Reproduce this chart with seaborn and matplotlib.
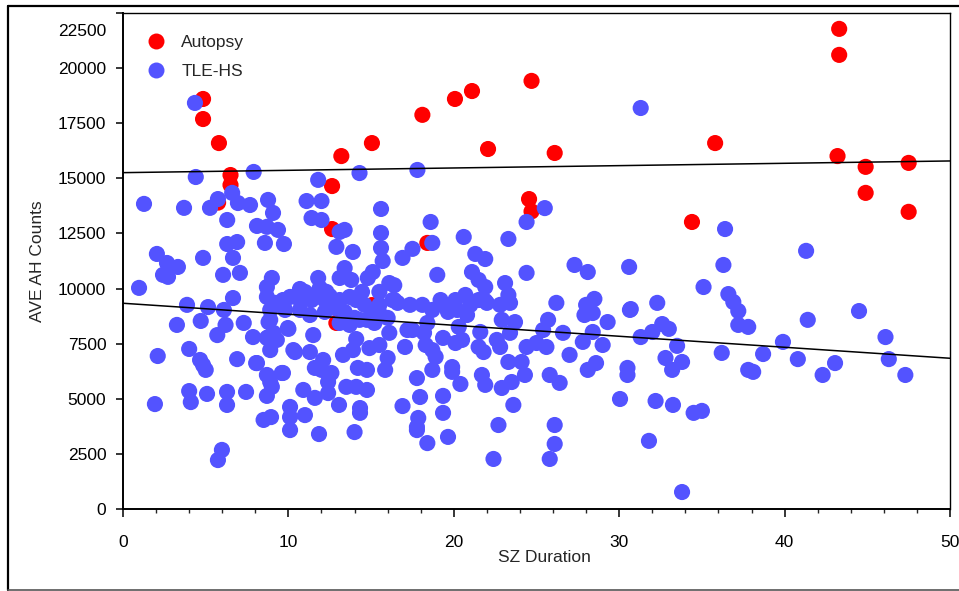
import numpy as np
import pandas as pd
import seaborn as sns
import matplotlib.pyplot as plt
from matplotlib.lines import Line2D
from matplotlib.transforms import ScaledTranslation

# values
autopsy_x = [4.84, 4.84, 5.8, 6.5, 6.5, 5.75, 13.2, 12.64, 15.05, 18.1, 20.07, 21.1,
             12.64, 18.4, 15.05, 12.9, 22.07, 26.1, 24.55, 24.7, 24.7, 35.8, 43.3,
             43.3, 43.2, 44.9, 47.5, 44.9, 47.5, 34.4]
autopsy_y = [18600, 17690, 16600, 15150, 14700, 13900, 16010, 14650, 16600, 17880,
             18600, 18960, 12700, 12070, 9250, 8440, 16330, 16150, 14060, 13500, 19420,
             16600, 21780, 20600, 16010, 15520, 15700, 14340, 13480, 13020]

tle_x = [
    # upper
    4.35, 31.3, 4.4, 7.9, 11.8, 14.3, 17.8, 1.27, 3.69, 5.26, 5.74, 6.6, 6.95, 7.68,
    8.77, 9.07, 11.1, 12.0, 15.6, 11.4, 12.0, 6.3, 8.1, 8.7, 9.37, 13.1, 13.4, 15.6,
    18.6, 18.7, 20.6, 6.3, 6.9, 8.58, 9.73, 25.5, 24.4, 23.3, 36.4,
    # 10000-12000
    12.9, 13.9, 15.6, 15.7, 16.9, 17.5, 6.65, 4.84, 2.05, 2.66, 3.32, 2.42, 2.72, 6.05,
    7.07, 0.97, 9.0, 8.7, 19.0, 11.8, 13.4, 13.1, 13.8, 14.8, 15.1, 16.1, 16.4, 21.3,
    21.9, 21.1, 21.5, 21.9, 23.1, 24.4, 27.3, 28.1, 30.6, 36.3, 41.3, 35.1, 10.7, 11.9,
    # 8000-10000
    6.65, 3.87, 5.14, 6.1, 3.26, 4.7, 6.2, 7.3, 8.9, 9.97, 8.8, 10.7, 12.3, 15.5, 16.4,
    8.7, 9.2, 9.67, 10.1, 10.7, 11.0, 11.4, 11.8, 12.2, 12.5, 13.1, 13.7, 14.1, 14.45,
    12.8, 13.4, 14.0, 10.7, 9.8, 8.9, 12.2, 11.3, 13.7, 14.3, 14.6, 15.5, 16.0, 16.6,
    15.05, 15.5, 14.75, 15.2, 13.1, 16.3, 17.35, 18.1, 18.7, 19.6, 20.2, 20.8, 20.3,
    18.4, 18.2, 17.5, 17.2, 19.2, 19.65, 20.1, 20.7, 21.0, 21.5, 22.0, 22.8, 23.4, 26.2,
    28.0, 28.4, 28.5, 30.65, 21.9, 23.3, 22.9, 23.7, 25.7, 25.4, 26.6, 29.3, 28.4, 21.6,
    22.6, 23.4, 32.3, 30.7, 36.6, 36.9, 37.2, 37.2, 37.8, 44.5, 41.4, 32.6, 33.0, 32.0,
    27.9, 10.0,
    # 6000-8000
    5.7, 7.86, 8.7, 8.9, 9.1, 4.0, 2.1, 4.66, 4.84, 5.0, 6.9, 8.05, 8.7, 9.6, 10.3,
    10.4, 11.3, 11.5, 9.3, 8.8, 12.1, 12.0, 11.6, 12.6, 13.3, 13.9, 14.9, 15.5, 16.1,
    14.1, 16.0, 15.85, 14.75, 14.2, 17.05, 18.3, 18.7, 18.9, 18.7, 19.9, 19.9, 19.35,
    20.1, 20.5, 21.5, 21.8, 22.8, 24.4, 25.0, 25.6, 27.0, 23.3, 24.1, 24.3, 25.8, 28.1,
    28.6, 30.5, 30.5, 21.7, 27.8, 29.0, 31.3, 33.5, 39.9, 46.1, 36.2, 38.7, 32.8, 33.8,
    33.2, 40.8, 43.05, 46.3, 42.3, 47.3, 37.8, 38.1, 9.67, 8.1,
    # below 6000
    9.0, 8.7, 4.0, 4.1, 5.08, 6.29, 6.29, 7.44, 1.93, 8.5, 8.95, 10.1, 10.1, 10.1, 11.0,
    11.85, 14.0, 13.06, 14.33, 14.33, 16.9, 17.77, 17.85, 17.77, 18.4, 19.65, 19.35,
    19.35, 17.96, 17.77, 20.4, 13.5, 14.1, 14.75, 12.4, 11.6, 10.9, 12.4, 8.9, 5.98,
    5.74, 21.9, 22.9, 23.5, 23.6, 30.05, 22.7, 26.1, 26.1, 22.4, 25.8, 26.4, 32.2,
    33.25, 34.5, 35.0, 31.8, 33.8,
]
tle_y = [
    18420, 18190, 15060, 15290, 14930, 15240, 15380, 13840, 13660, 13660, 14060, 14340,
    13880, 13790, 14020, 13430, 13970, 13970, 13610, 13200, 13110, 13110, 12840, 12800,
    12660, 12570, 12660, 12520, 13020, 12070, 12340, 12020, 12110, 12070, 12020, 13650,
    13020, 12250, 12700,
    11890, 11660, 11840, 11250, 11390, 11800, 11390, 11390, 11570, 11160, 10980, 10620,
    10530, 10620, 10710, 10030, 10480, 10070, 10620, 10480, 10930, 10480, 10390, 10480,
    10750, 10250, 10150, 11570, 11340, 10750, 10390, 10070, 10250, 10710, 11070, 10750,
    10980, 11070, 11710, 10070, 9980, 10030,
    9570, 9260, 9160, 9030, 8350, 8530, 8350, 8440, 8580, 8210, 8480, 9850, 9850, 9850,
    9480, 9620, 9350, 9480, 9620, 9480, 9850, 9480, 9850, 9480, 9660, 9480, 9620, 9480,
    9850, 9120, 8940, 8670, 9030, 9030, 9030, 8940, 8800, 8350, 8580, 9260, 9260, 8670,
    9350, 8890, 8890, 8580, 8440, 8440, 9480, 9260, 9260, 9030, 9120, 9030, 8800, 8260,
    8440, 7990, 8120, 8120, 9480, 8940, 9480, 9710, 9260, 9480, 9350, 9260, 9350, 9350,
    9260, 8890, 9530, 9030, 9440, 9710, 8580, 8480, 8580, 8120, 7990, 8480, 8030, 8030,
    7670, 7990, 9350, 9070, 9750, 9390, 8980, 8350, 8260, 8980, 8580, 8390, 8170, 8030,
    8800, 8170,
    7890, 7800, 7760, 7210, 7990, 7260, 6940, 6760, 6530, 6310, 6800, 6620, 6080, 6170,
    7210, 7120, 7120, 7890, 7670, 7800, 6760, 6310, 6400, 6170, 6990, 7210, 7300, 7440,
    7990, 7710, 6850, 6310, 6310, 6400, 7350, 7440, 7210, 6900, 6310, 6440, 6220, 7760,
    7530, 7670, 7350, 7120, 7350, 7350, 7530, 7350, 6990, 6670, 6670, 6080, 6080, 6310,
    6620, 6080, 6400, 6080, 7580, 7440, 7800, 7400, 7580, 7800, 7080, 7030, 6850, 6670,
    6310, 6800, 6620, 6800, 6080, 6080, 6310, 6220, 6170, 6620,
    5540, 5130, 5350, 4850, 5220, 5310, 4720, 5310, 4760, 4040, 4170, 3580, 4630, 4170,
    4260, 3400, 3490, 4720, 4580, 4360, 4670, 3720, 4130, 3580, 2990, 3270, 4360, 5130,
    5080, 5940, 5670, 5540, 5540, 5400, 5260, 5040, 5400, 5760, 5760, 2680, 2220, 5630,
    5490, 5760, 4720, 4990, 3810, 3810, 2950, 2270, 2270, 5720, 4900, 4720, 4360, 4450,
    3090, 770,
]

# fitted lines (intercept, slope) as drawn in the reference
fit_intercept = {'Autopsy': 15258, 'TLE-HS': 9333}
fit_slope = {'Autopsy': 10.6, 'TLE-HS': -49.9}

groups = ['Autopsy', 'TLE-HS']
colors = {'Autopsy': '#ff0000', 'TLE-HS': '#5353ff'}

df = pd.DataFrame({
    'SZ Duration': autopsy_x + tle_x,
    'AVE AH Counts': autopsy_y + tle_y,
    'group': ['Autopsy'] * len(autopsy_x) + ['TLE-HS'] * len(tle_x),
})

sns.set_theme(style='white')
plt.rcParams['font.family'] = ['Liberation Sans', 'DejaVu Sans']

fig = plt.figure(figsize=(9.59, 5.91), dpi=100)
ax = fig.add_axes([123 / 959, 1 - 509 / 591, 827 / 959, 496 / 591])

sns.scatterplot(
    data=df, x='SZ Duration', y='AVE AH Counts', hue='group', hue_order=groups,
    palette=colors, s=135, linewidth=0, alpha=1, ax=ax, legend=False,
)

for g in groups:
    ax.axline((0, fit_intercept[g]), slope=fit_slope[g], color='black', lw=1.1, zorder=1)

ax.set_xlim(0, 50)
ax.set_ylim(0, 22500)
ax.set_xticks(np.arange(0, 51, 10))
ax.set_xticks(np.arange(0, 51, 2), minor=True)
ax.set_yticks(np.arange(0, 22501, 2500))

ax.tick_params(axis='x', which='major', direction='out', length=6, width=1.1,
               pad=13, labelsize=12.5, bottom=True, colors='black')
ax.tick_params(axis='x', which='minor', direction='out', length=3, width=1.0, bottom=True)
ax.tick_params(axis='y', direction='out', length=5, width=1.1, pad=7,
               labelsize=12.5, left=True, colors='black')

for side in ['left', 'bottom']:
    ax.spines[side].set_linewidth(1.4)
    ax.spines[side].set_color('black')
for side in ['top', 'right']:
    ax.spines[side].set_linewidth(1.0)
    ax.spines[side].set_color('black')

ax.set_xlabel('SZ Duration', fontsize=12.5)
ax.set_ylabel('AVE AH Counts', fontsize=12.5)
ax.xaxis.set_label_coords(0.509, -0.083)
ax.yaxis.set_label_coords(-0.094, 0.5)

# the top tick label sits a bit lower than its tick in the reference
top_label = ax.get_yticklabels()[-1]
top_label.set_transform(top_label.get_transform()
                        + ScaledTranslation(0, -0.17, fig.dpi_scale_trans))

handles = [Line2D([], [], ls='', marker='o', ms=11.5, mec='none', mfc=colors[g])
           for g in groups]
ax.legend(handles, groups, loc='upper left', bbox_to_anchor=(0.019, 0.956),
          frameon=False, borderpad=0, borderaxespad=0, handlelength=2,
          handletextpad=0.45, labelspacing=0.78, fontsize=12.5)

# outer frame of the figure
fig.add_artist(Line2D([8 / 959, 8 / 959], [0.002, 1 - 6 / 591], color='black', lw=1.6))
fig.add_artist(Line2D([8 / 959, 1.0], [1 - 6 / 591, 1 - 6 / 591], color='black', lw=1.6))
fig.add_artist(Line2D([8 / 959, 1.0], [0.002, 0.002], color='#555555', lw=1.2))

fig.savefig('out.png', dpi=100)
plt.close(fig)
